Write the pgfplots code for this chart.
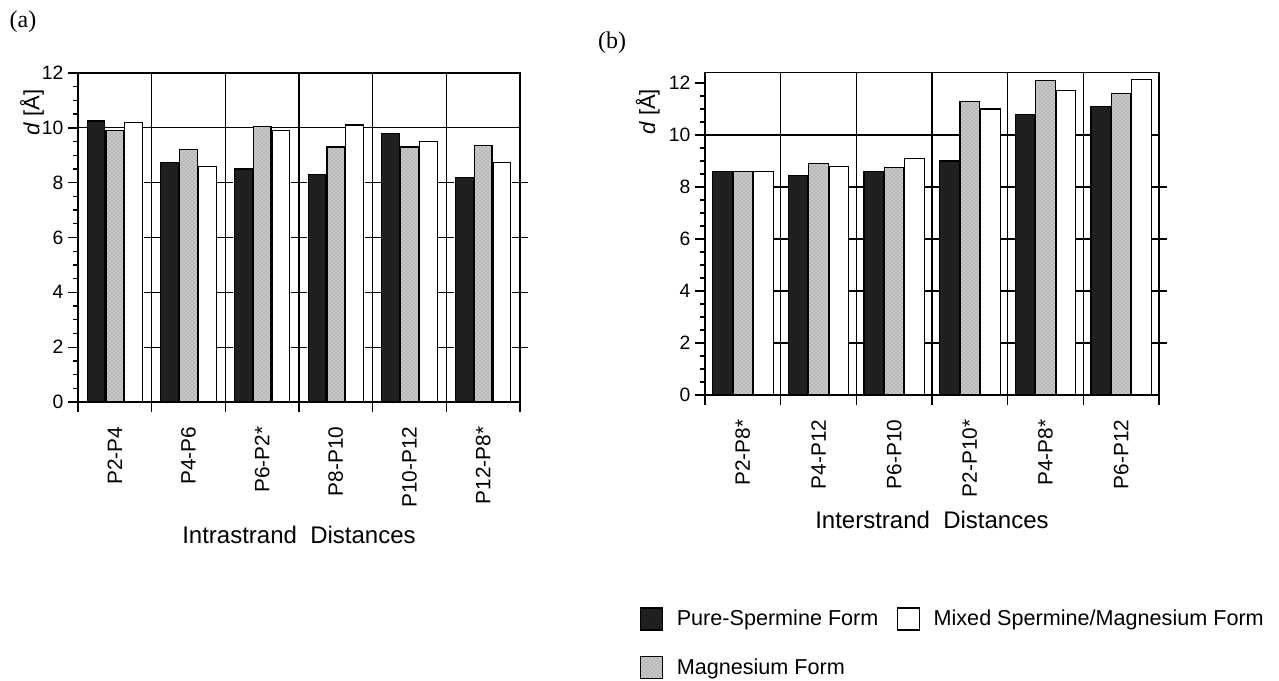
\documentclass[border=0pt]{standalone}
\usepackage{pgfplots}
\pgfplotsset{compat=1.18}
\usepackage{pgfplotstable}
\usepackage{fontspec}
\setmainfont{Liberation Sans}
\newfontfamily\serif{Liberation Serif}
\usetikzlibrary{patterns}

\pgfplotstableread{
x spm mg mix
0 10.25 9.90 10.20
1 8.75 9.20 8.60
2 8.50 10.05 9.90
3 8.30 9.30 10.10
4 9.80 9.30 9.50
5 8.20 9.35 8.75
}\tabA
\pgfplotstableread{
x spm mg mix
0 8.60 8.60 8.60
1 8.45 8.90 8.80
2 8.60 8.75 9.10
3 9.00 11.30 11.00
4 10.80 12.10 11.70
5 11.10 11.60 12.15
}\tabB
\pgfplotstableread{
x y
0.5 2
0.5 4
0.5 6
0.5 8
1.5 2
1.5 4
1.5 6
1.5 8
2.5 2
2.5 4
2.5 6
2.5 8
3.5 2
3.5 4
3.5 6
3.5 8
4.5 2
4.5 4
4.5 6
4.5 8
5.5 2
5.5 4
5.5 6
5.5 8
}\sepmarks

\pgfplotsset{
  panel/.style={
    scale only axis,
    xmin=-0.5, xmax=5.5, ymin=0,
    axis line style={line width=1.3pt},
    tick style={black, line width=1pt},
    tick align=outside,
    major tick length=7.5pt, minor tick length=3.75pt,
    xtick={-0.5,0.5,1.5,2.5,3.5,4.5,5.5}, xticklabels={},
    xmajorgrids,
    major grid style={black, line width=0.9pt},
    xtick pos=bottom, ytick pos=left,
    ytick={0,2,4,6,8,10,12}, minor y tick num=3,
    extra y ticks={10}, extra y tick labels={}, extra y tick style={grid=major},
    extra x ticks={0,1,2,3,4,5},
    extra x tick style={major tick length=0pt, grid=none, xticklabel shift=15pt},
    yticklabel style={font=\fontsize{14.5}{16}\selectfont},
    xticklabel style={font=\fontsize{15.6}{17}\selectfont, rotate=90, anchor=east},
    /pgf/number format/assume math mode=true,
    clip=false,
    xlabel style={font=\fontsize{18}{20}\selectfont, anchor=center},
    ylabel style={font=\fontsize{16.5}{18}\selectfont, anchor=center},
  },
  blk/.style={fill=black!88, draw=black, line width=0.9pt},
  gry/.style={fill=black!22, draw=black, line width=0.9pt, postaction={pattern=crosshatch dots, pattern color=black!45}},
  wht/.style={fill=white, draw=black, line width=0.9pt},
}

\begin{document}
\begin{tikzpicture}
\useasboundingbox (0,0) rectangle (959.25pt,-510.75pt);

\node[font=\serif\fontsize{18}{20}\selectfont] at (17.25pt,-16.5pt) {(a)};
\node[font=\serif\fontsize{18}{20}\selectfont] at (459pt,-32.25pt) {(b)};

\begin{axis}[panel, at={(58.5pt,-301.5pt)}, anchor=south west,
  width=331.5pt, height=246.75pt, ymax=12,
  extra x tick labels={P2-P4,P4-P6,P6-P2*,P8-P10,P10-P12,P12-P8*},
  xlabel={Intrastrand\ \ Distances},
  xlabel style={at={(axis description cs:0.5,-0.404)}},
  ylabel={\textit{d} [Å]},
  ylabel style={at={(axis description cs:-0.104,0.88)}},
]
\addplot[ybar, bar width=0.24, bar shift=-0.255, blk, forget plot] table[x=x,y=spm]{\tabA};
\addplot[ybar, bar width=0.24, bar shift=0, gry, forget plot] table[x=x,y=mg]{\tabA};
\addplot[ybar, bar width=0.24, bar shift=0.255, wht, forget plot] table[x=x,y=mix]{\tabA};
\addplot[only marks, mark=-, mark size=6pt, mark options={line width=1pt, black}, forget plot] table[x=x,y=y]{\sepmarks};
\end{axis}

\begin{axis}[panel, at={(528.75pt,-296.25pt)}, anchor=south west,
  width=340.5pt, height=241.8pt, ymax=12.4,
  extra x tick labels={P2-P8*,P4-P12,P6-P10,P2-P10*,P4-P8*,P6-P12},
  xlabel={Interstrand\ \ Distances},
  xlabel style={at={(axis description cs:0.5,-0.388)}},
  ylabel={\textit{d} [Å]},
  ylabel style={at={(axis description cs:-0.126,0.878)}},
  legend style={at={(axis description cs:-0.152,-0.65)}, anchor=north west,
    draw=none, fill=none, font=\fontsize{16.2}{18}\selectfont,
    legend columns=2, row sep=19pt,
    /tikz/every even column/.append style={column sep=12pt},
    /tikz/every odd column/.append style={column sep=8pt}},
  legend cell align=left,
  legend image code/.code={\draw[#1] (0pt,-8.25pt) rectangle (16.5pt,8.25pt);},
]
\addlegendimage{blk}
\addlegendentry{Pure-Spermine Form}
\addlegendimage{wht}
\addlegendentry{Mixed Spermine/Magnesium Form}
\addlegendimage{gry}
\addlegendentry{Magnesium Form}
\addplot[ybar, bar width=0.26, bar shift=-0.27, blk, forget plot] table[x=x,y=spm]{\tabB};
\addplot[ybar, bar width=0.26, bar shift=0, gry, forget plot] table[x=x,y=mg]{\tabB};
\addplot[ybar, bar width=0.26, bar shift=0.27, wht, forget plot] table[x=x,y=mix]{\tabB};
\addplot[only marks, mark=-, mark size=6pt, mark options={line width=1pt, black}, forget plot] table[x=x,y=y]{\sepmarks};
\end{axis}
\end{tikzpicture}
\end{document}
